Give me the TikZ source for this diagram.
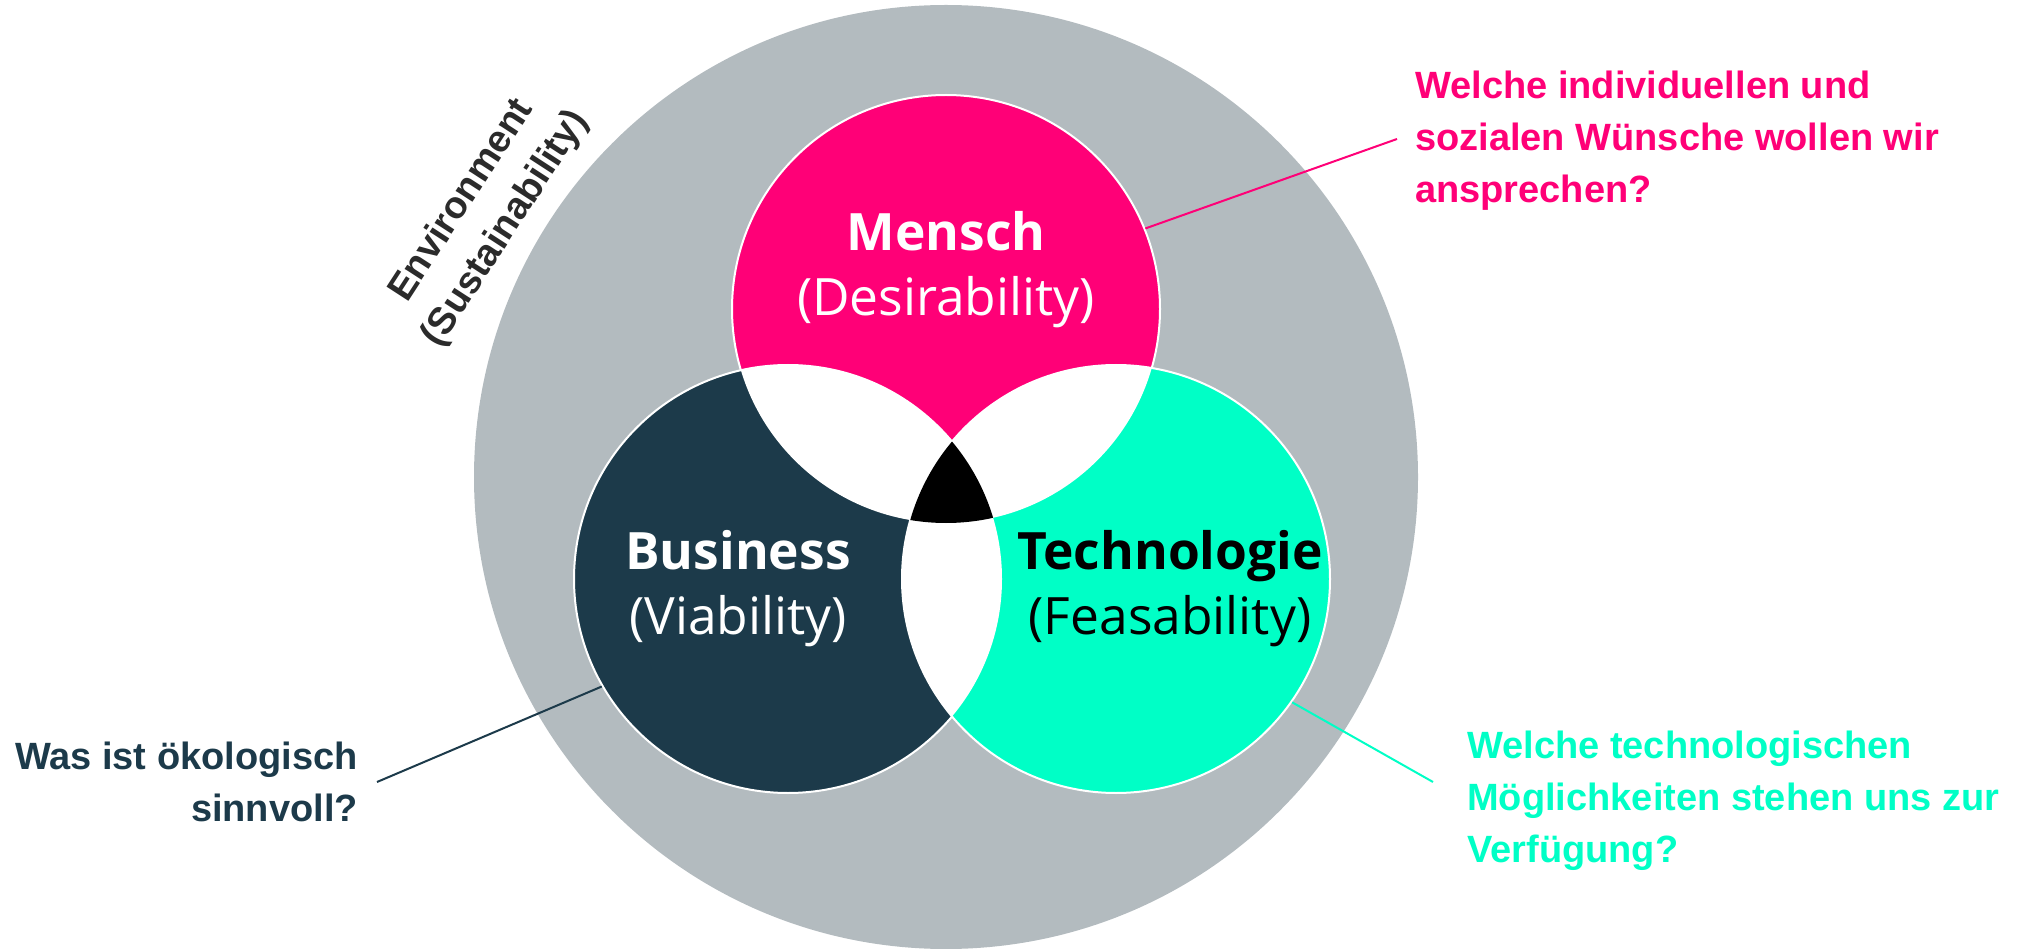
\documentclass[tikz,border=0pt]{standalone}
\usepackage{fontspec}
\setmainfont{Liberation Sans}
\newfontfamily\opensans{Open Sans}
\usepackage{xcolor}
\usepackage{tikz}
\definecolor{envgray}{HTML}{B3BBBF}
\definecolor{menschpink}{HTML}{FF0077}
\definecolor{businessblue}{HTML}{1C3A4A}
\definecolor{techgreen}{HTML}{00FFC6}
\definecolor{envtext}{HTML}{2B2B2B}

\begin{document}
\begin{tikzpicture}[
  x=1pt, y=-1pt,
  every node/.style={inner sep=0pt},
  venn/.style={circle, minimum size=428pt, draw=white, line width=2pt},
  circletext/.style={font=\opensans\fontsize{51.5}{65}\selectfont, align=center},
  question/.style={font=\bfseries\fontsize{38}{52}\selectfont},
  leader/.style={line width=2pt}
]
\useasboundingbox (0,0) rectangle (2022,949);
\fill[envgray] (946,477) circle[radius=472pt];
\node[venn, fill=menschpink] (mensch) at (946,309) {};
\node[venn, fill=businessblue] (business) at (788,579) {};
\node[venn, fill=techgreen] (tech) at (1116,579) {};
\begin{scope}
  \clip (business.center) circle[radius=214pt];
  \fill[white] (tech.center) circle[radius=214pt];
\end{scope}
\begin{scope}
  \clip (mensch.center) circle[radius=214pt];
  \fill[white] (business.center) circle[radius=214pt];
  \fill[white] (tech.center) circle[radius=214pt];
  \clip (business.center) circle[radius=214pt];
  \fill[black] (tech.center) circle[radius=214pt];
\end{scope}

\node[circletext, text=white] (menschlabel) at (946,270) {{\bfseries Mensch}\\(Desirability)};
\node[circletext, text=white] (businesslabel) at (738,589) {{\bfseries Business}\\(Viability)};
\node[circletext, text=black] (techlabel) at (1170,589) {{\bfseries Technologie}\\(Feasability)};
\node[question, text=envtext, align=center, rotate=57] (envlabel) at (484,215) {Environment\\(Sustainability)};

\node[question, text=menschpink, align=left, anchor=west] (menschq) at (1415,141)
  {Welche individuellen und\\sozialen W\"unsche wollen wir\\ansprechen?};
\node[question, text=businessblue, align=right, anchor=east] (businessq) at (358,782)
  {Was ist \"okologisch\\sinnvoll?};
\node[question, text=techgreen, align=left, anchor=west] (techq) at (1467,801)
  {Welche technologischen\\M\"oglichkeiten stehen uns zur\\Verf\"ugung?};

\draw[leader, menschpink] (mensch.22) -- ([shift={(-18,-2)}]menschq.west);
\draw[leader, businessblue] (business.210) -- ([xshift=19pt]businessq.east);
\draw[leader, techgreen] (tech.-35) -- ([shift={(-34,-19)}]techq.west);
\end{tikzpicture}
\end{document}
